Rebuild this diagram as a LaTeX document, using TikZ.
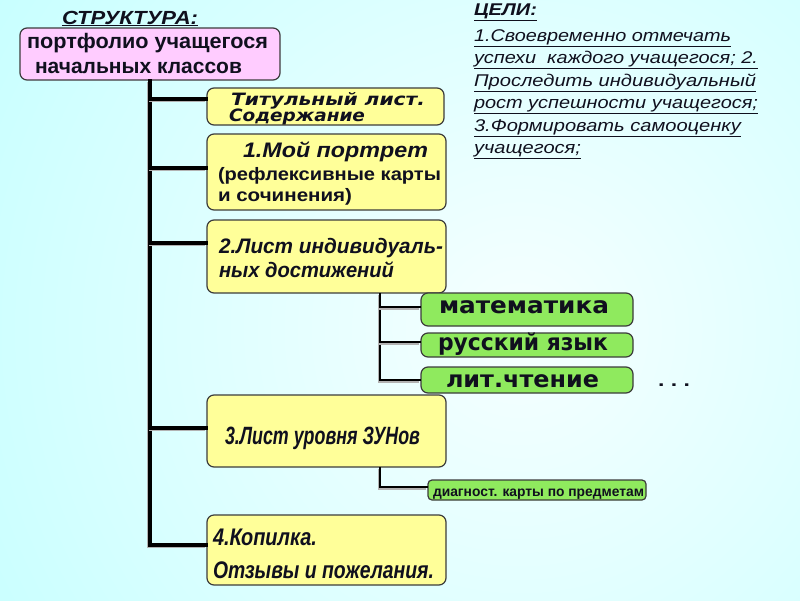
\documentclass[tikz,border=0pt]{standalone}
\usepackage{fontspec}
\setmainfont{Liberation Sans}
\newfontfamily\widefont{DejaVu Sans}
\usepackage{graphicx}
\definecolor{bgin}{HTML}{F6FFFF}
\definecolor{bgout}{HTML}{C8FFFF}
\definecolor{pinkfill}{HTML}{FFCCFF}
\definecolor{yelfill}{HTML}{FFFF99}
\definecolor{grnfill}{HTML}{8FEA5E}
\definecolor{boxline}{HTML}{3C3C3C}
\definecolor{txtcol}{HTML}{10101E}
\newcommand\fitw[3]{\resizebox{#1pt}{\height}{\fontsize{#2}{#2}\selectfont #3}}
\tikzset{
  box/.style={draw=boxline, line width=1.2pt, rounded corners=7pt, inner sep=0pt},
  pbox/.style={box, fill=pinkfill},
  ybox/.style={box, fill=yelfill},
  gbox/.style={box, fill=grnfill},
  txt/.style={anchor=base west, inner sep=0pt, outer sep=0pt, text=txtcol},
  conn/.style={black, line cap=rect, preaction={draw=black!30, line width=#1, transform canvas={shift={(-1.2pt,-1.5pt)}}}, line width=#1},
  trunk/.style={conn=3.2pt},
  subline/.style={conn=2pt}
}
\begin{document}
\begin{tikzpicture}[x=1pt,y=-1pt]
\useasboundingbox (0,0) rectangle (800,600);
\begin{scope}
\clip (0,0) rectangle (800,600);
\shade[inner color=bgin, outer color=bgout] (520,330) circle (620);
\end{scope}

% boxes
\node[pbox, minimum width=260pt, minimum height=52pt] (pink) at (150,54) {};
\node[ybox, minimum width=237pt, minimum height=37pt] (t0) at (325.5,106.5) {};
\node[ybox, minimum width=239pt, minimum height=76pt] (b1) at (326.5,172) {};
\node[ybox, minimum width=239pt, minimum height=73pt] (b2) at (326.5,256.5) {};
\node[gbox, minimum width=212pt, minimum height=33pt] (m1) at (527,309.5) {};
\node[gbox, minimum width=212pt, minimum height=24pt] (m2) at (527,345) {};
\node[gbox, minimum width=212pt, minimum height=26pt] (m3) at (527,380) {};
\node[ybox, minimum width=239pt, minimum height=72pt] (b3) at (326.5,431) {};
\node[gbox, rounded corners=4pt, minimum width=218pt, minimum height=20pt] (d1) at (537,490) {};
\node[ybox, minimum width=239pt, minimum height=70pt] (b4) at (326.5,550) {};

% connector end points
\coordinate (e0) at ([yshift=7.5pt]t0.west);
\coordinate (e1) at ([yshift=4pt]b1.west);
\coordinate (e2) at ([yshift=13.5pt]b2.west);
\coordinate (e3) at ([yshift=3pt]b3.west);
\coordinate (e4) at ([yshift=5pt]b4.west);
\coordinate (s2) at ([xshift=53.5pt]b2.south);
\coordinate (s3) at ([xshift=53.5pt]b3.south);
\coordinate (f1) at ([yshift=2.5pt]m1.west);
\coordinate (f2) at ([yshift=3pt]m2.west);
\coordinate (f4) at ([yshift=3pt]d1.west);

% connectors
\draw[trunk] (pink.south) |- (e4);
\draw[trunk] (pink.south |- e0) -- (e0);
\draw[trunk] (pink.south |- e1) -- (e1);
\draw[trunk] (pink.south |- e2) -- (e2);
\draw[trunk] (pink.south |- e3) -- (e3);
\draw[subline] (s2) |- (m3.west);
\draw[subline] (s2 |- f1) -- (f1);
\draw[subline] (s2 |- f2) -- (f2);
\draw[subline] (s3) |- (f4);

% texts
\node[txt] (head) at (62,24) {\fitw{136}{19}{\bfseries\itshape\underline{СТРУКТУРА:}}};
\node[txt] (p1) at (27,48) {\fitw{241}{21}{\bfseries портфолио учащегося}};
\node[txt] (p2) at (35,73) {\fitw{207}{21}{\bfseries начальных классов}};

\node[txt] (g0) at (474,15) {\fitw{63}{17}{\bfseries\itshape\underline{ЦЕЛИ:}}};
\node[txt] (g1) at (474,41) {\fitw{257}{17}{\itshape\underline{1.Своевременно отмечать}}};
\node[txt] (g2) at (474,63) {\fitw{284}{17}{\itshape\underline{успехи\ \ каждого учащегося; 2.}}};
\node[txt] (g3) at (474,86) {\fitw{282}{17}{\itshape\underline{Проследить индивидуальный}}};
\node[txt] (g4) at (474,108) {\fitw{284}{17}{\itshape\underline{рост успешности учащегося;}}};
\node[txt] (g5) at (474,131) {\fitw{267}{17}{\itshape\underline{3.Формировать самооценку}}};
\node[txt] (g6) at (474,153) {\fitw{107}{17}{\itshape\underline{учащегося;}}};

\node[txt] (t0a) at (231,105) {\fitw{194}{17}{\widefont\bfseries\itshape Титульный лист.}};
\node[txt] (t0b) at (229,121) {\fitw{136}{17}{\widefont\bfseries\itshape Содержание}};

\node[txt] (b1a) at (243,157) {\fitw{185}{21}{\bfseries\itshape 1.Мой портрет}};
\node[txt] (b1b) at (218,180) {\fitw{223}{18}{\bfseries (рефлексивные карты}};
\node[txt] (b1c) at (218,201) {\fitw{134}{18}{\bfseries и сочинения)}};

\node[txt] (b2a) at (219,253) {\fitw{224}{21}{\bfseries\itshape 2.Лист индивидуаль-}};
\node[txt] (b2b) at (219,277) {\fitw{175}{21}{\bfseries\itshape ных достижений}};

\node[txt] (m1t) at (439,313) {\fitw{170}{23}{\widefont\bfseries математика}};
\node[txt] (m2t) at (438,350) {\fitw{170}{23}{\widefont\bfseries русский язык}};
\node[txt] (m3t) at (446,387) {\fitw{153}{23}{\widefont\bfseries лит.чтение}};
\node[txt] (dots) at (658,386) {\fitw{32}{18}{\bfseries .\ .\ .}};

\node[txt] (b3t) at (225,444) {\fitw{195}{25}{\bfseries\itshape 3.Лист уровня ЗУНов}};
\node[txt] (d1t) at (433,496) {\fitw{211}{14}{\bfseries диагност. карты по предметам}};

\node[txt] (b4a) at (213,545) {\fitw{104}{24}{\bfseries\itshape 4.Копилка.}};
\node[txt] (b4b) at (213,578) {\fitw{221}{24}{\bfseries\itshape Отзывы и пожелания.}};
\end{tikzpicture}
\end{document}
